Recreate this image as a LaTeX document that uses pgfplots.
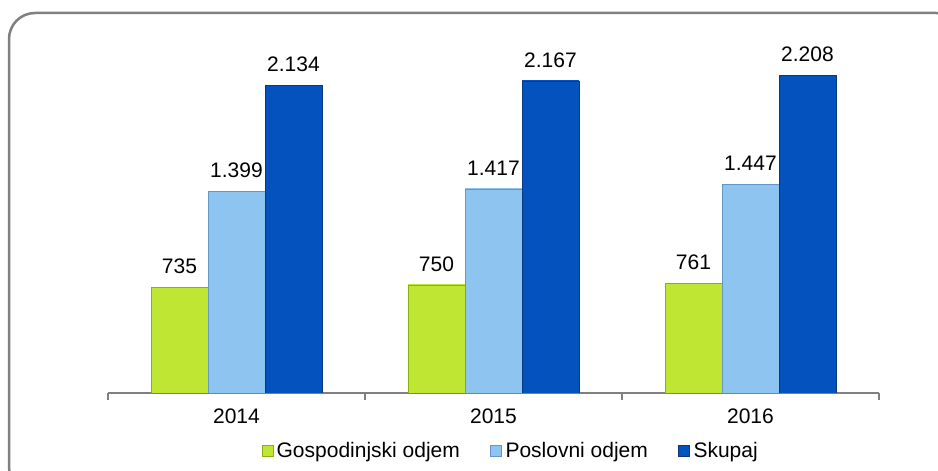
\documentclass[border=0pt]{standalone}
\usepackage{fontspec}
\setmainfont{Liberation Sans}
\usepackage{pgfplots}
\pgfplotsset{compat=1.18}
\definecolor{gfill}{RGB}{190,230,50}
\definecolor{gl}{RGB}{202,238,80}
\definecolor{gd}{RGB}{160,200,30}
\definecolor{gedge}{RGB}{140,176,20}
\definecolor{lfill}{RGB}{142,196,240}
\definecolor{ll}{RGB}{160,208,245}
\definecolor{ld}{RGB}{118,172,220}
\definecolor{ledge}{RGB}{100,150,200}
\definecolor{dfill}{RGB}{4,82,190}
\definecolor{dl}{RGB}{20,96,204}
\definecolor{dd}{RGB}{3,66,160}
\definecolor{dedge}{RGB}{10,55,130}
\definecolor{framec}{RGB}{128,128,128}
\pgfdeclarehorizontalshading{gsh}{100bp}{color(0bp)=(gl); color(12bp)=(gl); color(14bp)=(gfill); color(86bp)=(gfill); color(88bp)=(gd); color(100bp)=(gd)}
\pgfdeclarehorizontalshading{lsh}{100bp}{color(0bp)=(ll); color(12bp)=(ll); color(14bp)=(lfill); color(86bp)=(lfill); color(88bp)=(ld); color(100bp)=(ld)}
\pgfdeclarehorizontalshading{dsh}{100bp}{color(0bp)=(dl); color(12bp)=(dl); color(14bp)=(dfill); color(86bp)=(dfill); color(88bp)=(dd); color(100bp)=(dd)}
\pgfplotsset{
  gbar/.style={shading=gsh, draw=gedge, line width=0.8pt, bar shift=-57pt, forget plot},
  lbar/.style={shading=lsh, draw=ledge, line width=0.8pt, bar shift=0pt, forget plot},
  dbar/.style={shading=dsh, draw=dedge, line width=0.8pt, bar shift=57pt, forget plot},
  sqlegend/.style={legend image code/.code={\draw[##1, line width=0.6pt] (0pt,-6pt) rectangle (11pt,5pt);}},
}
\begin{document}
\begin{tikzpicture}
\useasboundingbox (0pt,0pt) rectangle (938pt,471pt);
\clip (0pt,0pt) rectangle (938pt,471pt);
\draw[framec, line width=2.5pt, rounded corners=26pt] (9pt,458pt) rectangle (962pt,-22pt);
\begin{axis}[
  at={(108pt,78pt)}, anchor=south west,
  scale only axis, width=771pt, height=360pt,
  xmin=-0.5, xmax=2.5, ymin=0, ymax=2500,
  ybar, bar width=57pt,
  axis x line=bottom, axis y line=none,
  x axis line style={-, draw=framec, line width=1.5pt},
  xtick={0,1,2}, xticklabels={2014,2015,2016},
  major tick length=0pt,
  extra x ticks={-0.5,0.5,1.5,2.5}, extra x tick labels={},
  extra x tick style={major tick length=7pt, tick align=outside, tick style={draw=framec, line width=1.5pt}},
  xticklabel style={yshift=-12pt},
  font=\fontsize{21}{25}\selectfont,
  /pgf/number format/assume math mode=true,
  /pgf/number format/1000 sep={.},
  nodes near coords,
  nodes near coords style={yshift=10pt, text=black},
  legend columns=3,
  legend style={draw=none, fill=none, at={(0.195,-0.16)}, anchor=west,
    /tikz/every even column/.append style={column sep=27pt},
    nodes={inner xsep=3.5pt}},
  legend cell align=left,
]
\addplot[gbar] coordinates {(0,735)};
\addplot[lbar] coordinates {(0,1399)};
\addplot[dbar] coordinates {(0,2134)};
\addplot[gbar] coordinates {(1,750)};
\addplot[lbar] coordinates {(1,1417)};
\addplot[dbar] coordinates {(1,2167)};
\addplot[gbar] coordinates {(2,761)};
\addplot[lbar] coordinates {(2,1447)};
\addplot[dbar] coordinates {(2,2208)};
\addlegendimage{sqlegend, fill=gfill, draw=gedge}
\addlegendentry{Gospodinjski odjem}
\addlegendimage{sqlegend, fill=lfill, draw=ledge}
\addlegendentry{Poslovni odjem}
\addlegendimage{sqlegend, fill=dfill, draw=dedge}
\addlegendentry{Skupaj}
\end{axis}
\end{tikzpicture}
\end{document}
